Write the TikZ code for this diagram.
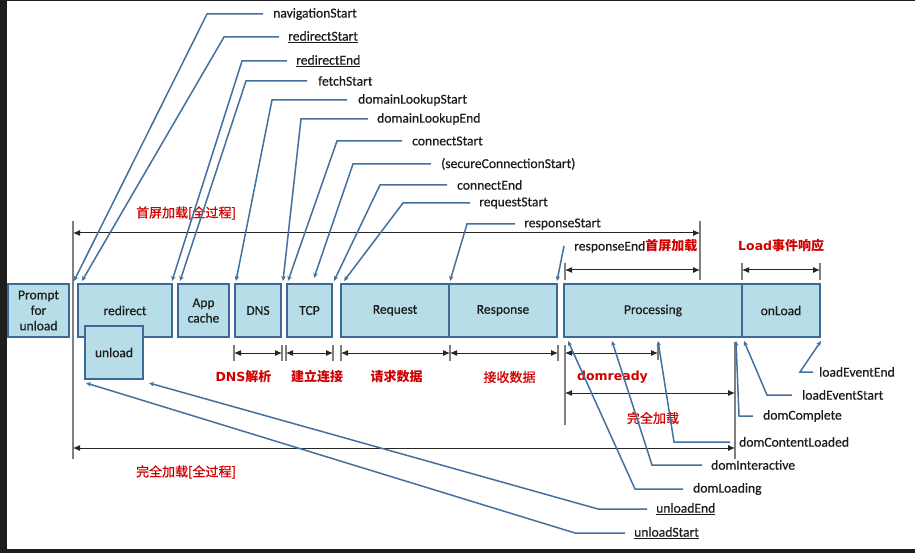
\documentclass[tikz,border=0pt]{standalone}
\usepackage{fontspec}
\setmainfont{Carlito}[FakeBold=0.5]
\newfontfamily\cjkfont{Noto Sans CJK SC}
\newfontfamily\cjkmedium{Noto Sans CJK SC}[FakeBold=0.8]
\newfontfamily\latfont{DejaVu Sans}
\usetikzlibrary{arrows.meta,calc}

\definecolor{boxfill}{HTML}{B7DEE8}
\definecolor{boxline}{HTML}{3D6996}
\definecolor{conncol}{HTML}{44709F}
\definecolor{tickgray}{HTML}{7F7F7F}
\definecolor{redtxt}{HTML}{D00000}
\definecolor{lbltxt}{HTML}{1C1C1C}
\definecolor{framecol}{HTML}{1E1E1E}

% red captions: CJK in Noto Sans CJK, Latin in DejaVu Sans
\newcommand\cjkreg[1]{{\cjkmedium\fontsize{13}{15}\selectfont #1}}
\newcommand\cjkbold[1]{{\cjkfont\bfseries\fontsize{13}{15}\selectfont #1}}
\newcommand\latbold[1]{{\latfont\bfseries\fontsize{12.5}{15}\selectfont #1}}

\begin{document}
\begin{tikzpicture}[x=1pt,y=-1pt,
  box/.style={draw=boxline, fill=boxfill, line width=2.2pt, inner sep=0pt,
    minimum height=53pt, font=\fontsize{13.5}{15.5}\selectfont, text=lbltxt, align=center},
  lbl/.style={anchor=west, inner sep=0pt, font=\fontsize{13.6}{15}\selectfont, text=lbltxt},
  redcap/.style={inner sep=0pt, text=redtxt},
  conn/.style={draw=conncol, line width=1.5pt, -{Stealth[length=5pt,width=4.5pt]}},
  tick/.style={draw=tickgray, line width=1.6pt},
  dim/.style={draw=black!85, line width=1pt,
    {Latex[length=7pt,width=6pt]}-{Latex[length=7pt,width=6pt]}}]

% canvas and dark frame strips
\useasboundingbox (0,0) rectangle (915,553);
\fill[white] (0,0) rectangle (915,553);
\fill[framecol] (0,0) rectangle (7,553);
\fill[framecol] (0,0) rectangle (915,1.5);
\fill[framecol] (0,549) rectangle (915,553);

% ---------- gray extension lines ----------
\coordinate (gA1) at (73,221);   \coordinate (gA2) at (73,459);
\coordinate (gB1) at (700,221);  \coordinate (gB2) at (700,280);
\coordinate (gC1) at (565,263);  \coordinate (gC2) at (565,280);
\coordinate (gD1) at (742,263);  \coordinate (gD2) at (742,280);
\coordinate (gE1) at (820,263);  \coordinate (gE2) at (820,280);
\coordinate (gF1) at (565,345);  \coordinate (gF2) at (565,425);
\coordinate (gG1) at (658,343);  \coordinate (gG2) at (658,360);
\coordinate (gH1) at (735,342);  \coordinate (gH2) at (735,459);
\foreach \a in {A,B,C,D,E,F,G,H} \draw[tick] (g\a1) -- (g\a2);
\foreach \x/\n in {234/a,282/b,286/c,333/d,341/e,450/f,558/g}{
  \coordinate (s\n1) at (\x,345); \coordinate (s\n2) at (\x,361);
  \draw[tick] (s\n1) -- (s\n2);
}

% ---------- dimension arrows ----------
\coordinate (fsL) at (73,233);  \coordinate (fsR) at (700,233);
\draw[dim] (fsL) -- (fsR);
\coordinate (feL) at (565,270); \coordinate (feR) at (700,270);
\draw[dim] (feL) -- (feR);
\coordinate (ldL) at (742,270); \coordinate (ldR) at (820,270);
\draw[dim] (ldL) -- (ldR);
\coordinate (dnL) at (234,353); \coordinate (dnR) at (282,353);
\draw[dim] (dnL) -- (dnR);
\coordinate (tcL) at (286,353); \coordinate (tcR) at (333,353);
\draw[dim] (tcL) -- (tcR);
\coordinate (rqL) at (341,353); \coordinate (rqR) at (450,353);
\draw[dim] (rqL) -- (rqR);
\coordinate (rsL) at (450,353); \coordinate (rsR) at (558,353);
\draw[dim] (rsL) -- (rsR);
\coordinate (drL) at (565,353); \coordinate (drR) at (658,353);
\draw[dim] (drL) -- (drR);
\coordinate (clL) at (565,393); \coordinate (clR) at (735,393);
\draw[dim] (clL) -- (clR);
\coordinate (faL) at (73,448);  \coordinate (faR) at (735,448);
\draw[dim] (faL) -- (faR);

% ---------- red captions ----------
\node[redcap] (capFirst) at (186,213) {\cjkreg{首屏加载[全过程]}};
\node[redcap] (capAll)   at (186,472) {\cjkreg{完全加载[全过程]}};
\node[redcap] (capLoad)  at (653,418) {\cjkreg{完全加载}};
\node[redcap, anchor=west] (capEvt) at (738,246) {\latbold{Load}\cjkbold{事件响应}};
\node[redcap] (capDns)  at (243.5,377) {\latbold{DNS}\cjkbold{解析}};
\node[redcap] (capTcp)  at (317,377)   {\cjkbold{建立连接}};
\node[redcap] (capReq)  at (396.5,377) {\cjkbold{请求数据}};
\node[redcap] (capRes)  at (509.5,377) {\cjkreg{接收数据}};
\node[redcap] (capDom)  at (612.5,377) {\latbold{domready}};

% ---------- phase boxes ----------
\node[box, minimum width=61pt]  (prompt)     at (38.5,310.5) {Prompt\\for\\unload};
\node[box, minimum width=94pt]  (redirect)   at (125,310.5)  {redirect};
\node[box, minimum width=58pt]  (unload)     at (114,352.5)  {unload};
\node[box, minimum width=51pt]  (appcache)   at (203.5,310.5){App\\cache};
\node[box, minimum width=46pt]  (dns)        at (258,310.5)  {DNS};
\node[box, minimum width=45pt]  (tcp)        at (309.5,310.5){TCP};
\node[box, minimum width=108pt] (request)    at (395,310.5)  {Request};
\node[box, minimum width=108pt] (response)   at (503,310.5)  {Response};
\node[box, minimum width=178pt] (processing) at (653,310.5)  {Processing};
\node[box, minimum width=78pt]  (onload)     at (781,310.5)  {onLoad};

% ---------- timing labels above ----------
\node[lbl] (navS) at (273,14)  {navigationStart};
\node[lbl] (redS) at (288,37)  {\underline{redirectStart}};
\node[lbl] (redE) at (296,61)  {\underline{redirectEnd}};
\node[lbl] (fetS) at (318,81)  {fetchStart};
\node[lbl] (dlS)  at (358,100) {domainLookupStart};
\node[lbl] (dlE)  at (377,119) {domainLookupEnd};
\node[lbl] (conS) at (412,141) {connectStart};
\node[lbl] (secS) at (441,164) {(secureConnectionStart)};
\node[lbl] (conE) at (457,185) {connectEnd};
\node[lbl] (reqS) at (479,203) {requestStart};
\node[lbl] (resS) at (524,224) {responseStart};
\node[lbl] (resE) at (574,246) {responseEnd\cjkbold{\color{redtxt}首屏加载}};

% ---------- timing labels below ----------
\node[lbl] (lEE) at (819,372) {loadEventEnd};
\node[lbl] (lES) at (802,395) {loadEventStart};
\node[lbl] (dC)  at (763,416) {domComplete};
\node[lbl] (dCL) at (739,442) {domContentLoaded};
\node[lbl] (dI)  at (711,465) {domInteractive};
\node[lbl] (dL)  at (693,489) {domLoading};
\node[lbl] (uE)  at (656,509) {\underline{unloadEnd}};
\node[lbl] (uS)  at (634,533) {\underline{unloadStart}};

% ---------- arrow targets on the boxes ----------
\coordinate (tNav) at (74,281);
\coordinate (tRdS) at (82,281);
\coordinate (tRdE) at (172,281);
\coordinate (tFet) at (180,281);
\coordinate (tDlS) at (236,281);
\coordinate (tDlE) at (283,281);
\coordinate (tCnS) at (288,281);
\coordinate (tSec) at (314,278);
\coordinate (tCnE) at (334,281);
\coordinate (tRqS) at (344,281);
\coordinate (tRsS) at (450,281);
\coordinate (tRsE) at (557,281);
\coordinate (tLEE) at (821,341);
\coordinate (tLES) at (744,341);
\coordinate (tDC)  at (736,341);
\coordinate (tDCL) at (658,341);
\coordinate (tDI)  at (612,341);
\coordinate (tDL)  at (568,341);
\coordinate (tUE)  at (149,383);
\coordinate (tUS)  at (86,383);

% ---------- connectors ----------
\draw[conn] ([xshift=-10pt]navS.west) -- ++(-56,0) -- (tNav);
\draw[conn] ([xshift=-9pt]redS.west)  -- ++(-55,0) -- (tRdS);
\draw[conn] ([xshift=-9pt]redE.west)  -- ++(-45,0) -- (tRdE);
\draw[conn] ([xshift=-11pt]fetS.west) -- ++(-61,0) -- (tFet);
\draw[conn] ([xshift=-11pt]dlS.west)  -- ++(-75,0) -- (tDlS);
\draw[conn] ([xshift=-9pt]dlE.west)   -- ++(-67,0) -- (tDlE);
\draw[conn] ([xshift=-10pt]conS.west) -- ++(-65,0) -- (tCnS);
\draw[conn] ([xshift=-10pt]secS.west) -- ++(-78,0) -- (tSec);
\draw[conn] ([xshift=-10pt]conE.west) -- ++(-67,0) -- (tCnE);
\draw[conn] ([xshift=-9pt]reqS.west)  -- ++(-67,0) -- (tRqS);
\draw[conn] ([xshift=-9pt]resS.west)  -- ++(-48,0) -- (tRsS);
\draw[conn] ([xshift=-10pt]resE.west) -- (tRsE);

\draw[conn] ([xshift=-6pt]lEE.west)  -- ++(-13,0) -- (tLEE);
\draw[conn] ([xshift=-10pt]lES.west) -- ++(-25,0) -- (tLES);
\draw[conn] ([xshift=-10pt]dC.west)  -- ++(-14,0) -- (tDC);
\draw[conn] ([xshift=-9pt]dCL.west)  -- ++(-56,0) -- (tDCL);
\draw[conn] ([xshift=-9pt]dI.west)   -- ++(-50,0) -- (tDI);
\draw[conn] ([xshift=-10pt]dL.west)  -- ++(-48,0) -- (tDL);
\draw[conn] ([xshift=-9pt]uE.west)   -- ++(-49,0) -- (tUE);
\draw[conn] ([xshift=-9pt]uS.west)   -- ++(-50,0) -- (tUS);

\end{tikzpicture}
\end{document}
